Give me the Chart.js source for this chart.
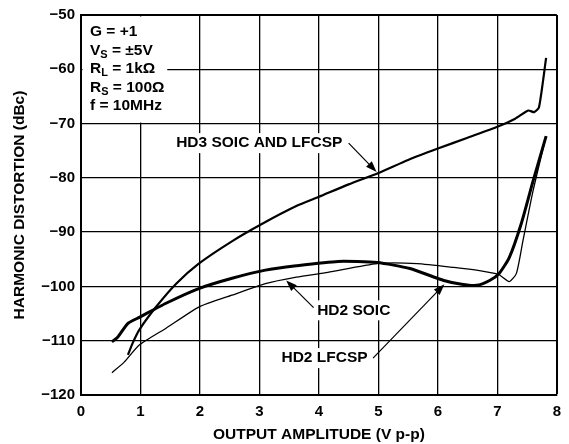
<!DOCTYPE html>
<html>
<head>
<meta charset="utf-8">
<script src="https://cdn.jsdelivr.net/npm/chart.js@4.4.1/dist/chart.umd.min.js"></script>
<style>
  body { margin: 0; background: #fff; }
  canvas { display: block; }
</style>
</head>
<body>
<canvas id="distortionChart" width="569" height="444"></canvas>
<script>
// HD3 SOIC and LFCSP
const hd3X = [0.79, 0.87, 0.98, 1.26, 1.6, 1.98, 2.55, 3.04, 3.62, 4.0, 4.5, 5.0, 5.5, 6.0, 6.5, 7.0, 7.3, 7.52, 7.62, 7.7, 7.82];
const hd3Y = [-112.6, -110.4, -108, -103.8, -99.5, -95.8, -91.6, -88.5, -85.2, -83.5, -81.2, -79.1, -76.7, -74.6, -72.6, -70.6, -69.1, -67.6, -67.9, -67.0, -57.9];

// HD2 LFCSP (heavy line)
const hd2LfcspX = [0.52, 0.62, 0.79, 0.98, 1.43, 1.98, 2.54, 3.1, 3.62, 4.32, 4.98, 5.53, 6.1, 6.4, 6.65, 6.87, 7.03, 7.2, 7.4, 7.6, 7.82];
const hd2LfcspY = [-110.2, -109.3, -106.8, -105.7, -103.1, -100.4, -98.5, -97, -96.2, -95.4, -95.6, -96.7, -98.9, -99.6, -99.8, -98.9, -97.6, -94.7, -88.5, -80.6, -72.3];

// HD2 SOIC (thin line)
const hd2SoicX = [0.52, 0.73, 0.98, 1.43, 1.98, 2.54, 3.1, 3.62, 4.15, 4.98, 5.65, 6.27, 6.7, 7.02, 7.2, 7.32, 7.43, 7.6, 7.82];
const hd2SoicY = [-115.9, -113.9, -110.8, -107.7, -103.8, -101.6, -99.5, -98.3, -97.4, -95.8, -95.8, -96.5, -97.1, -97.8, -99.1, -97.6, -91.6, -82.4, -72.3];

const xTicks = [0, 1, 2, 3, 4, 5, 6, 7, 8];
const yTicks = [-120, -110, -100, -90, -80, -70, -60, -50];

const conditions = [
    ['G = +1', '', ''],
    ['V', 'S', ' = \u00b15V'],
    ['R', 'L', ' = 1k\u03a9'],
    ['R', 'S', ' = 100\u03a9'],
    ['f = 10MHz', '', '']
];

// curve labels: text, label pos (data), arrow from -> to (data)
const callouts = [
    { text: 'HD3 SOIC AND LFCSP', x: 1.6, y: -73.6, from: [4.5, -73.6], to: [4.97, -78.9] },
    { text: 'HD2 SOIC', x: 3.97, y: -104.4, from: [3.91, -103.9], to: [3.45, -98.9] },
    { text: 'HD2 LFCSP', x: 3.37, y: -113.2, from: [4.91, -113.2], to: [6.11, -99.6] }
];

const FONT = '"Liberation Sans", Arial, sans-serif';
const LABEL_FONT = 'bold 15.5px ' + FONT;

function toPoints(xs, ys) {
    return xs.map((x, i) => ({ x: x, y: ys[i] }));
}

function drawArrow(ctx, x1, y1, x2, y2) {
    const ang = Math.atan2(y2 - y1, x2 - x1);
    const len = 11, half = 4;
    ctx.beginPath();
    ctx.moveTo(x1, y1);
    ctx.lineTo(x2 - Math.cos(ang) * len * 0.8, y2 - Math.sin(ang) * len * 0.8);
    ctx.lineWidth = 1.2;
    ctx.strokeStyle = '#000';
    ctx.stroke();
    ctx.beginPath();
    ctx.moveTo(x2, y2);
    ctx.lineTo(x2 - Math.cos(ang) * len - Math.sin(ang) * half, y2 - Math.sin(ang) * len + Math.cos(ang) * half);
    ctx.lineTo(x2 - Math.cos(ang) * len + Math.sin(ang) * half, y2 - Math.sin(ang) * len - Math.cos(ang) * half);
    ctx.closePath();
    ctx.fillStyle = '#000';
    ctx.fill();
}

const annotations = {
    id: 'annotations',
    beforeDatasetsDraw(chart) {
        const ctx = chart.ctx;
        const xs = chart.scales.x, ys = chart.scales.y;
        const area = chart.chartArea;
        ctx.save();
        ctx.fillStyle = '#fff';
        // conditions box
        ctx.fillRect(area.left + 1.5, area.top + 1.5, xs.getPixelForValue(1.45) - area.left - 1.5, ys.getPixelForValue(-70) - area.top - 2.5);
        // label boxes
        ctx.font = LABEL_FONT;
        callouts.forEach(c => {
            const px = xs.getPixelForValue(c.x), py = ys.getPixelForValue(c.y);
            const w = ctx.measureText(c.text).width;
            ctx.fillRect(px - 3, py - 10, w + 6, 20);
        });
        ctx.restore();
    },
    afterDatasetsDraw(chart) {
        const ctx = chart.ctx;
        const xs = chart.scales.x, ys = chart.scales.y;
        const area = chart.chartArea;
        ctx.save();
        ctx.fillStyle = '#000';
        ctx.textBaseline = 'middle';
        ctx.textAlign = 'left';
        conditions.forEach((parts, i) => {
            let x = area.left + 9;
            const y = area.top + 17 + i * 18.5;
            ctx.font = LABEL_FONT;
            ctx.fillText(parts[0], x, y);
            x += ctx.measureText(parts[0]).width;
            if (parts[1]) {
                ctx.font = 'bold 11px ' + FONT;
                ctx.fillText(parts[1], x, y + 4);
                x += ctx.measureText(parts[1]).width;
                ctx.font = LABEL_FONT;
                ctx.fillText(parts[2], x, y);
            }
        });
        ctx.font = LABEL_FONT;
        callouts.forEach(c => {
            ctx.fillText(c.text, xs.getPixelForValue(c.x), ys.getPixelForValue(c.y));
            drawArrow(ctx,
                xs.getPixelForValue(c.from[0]), ys.getPixelForValue(c.from[1]),
                xs.getPixelForValue(c.to[0]), ys.getPixelForValue(c.to[1]));
        });
        ctx.restore();
    }
};

const ctx = document.getElementById('distortionChart').getContext('2d');

new Chart(ctx, {
    type: 'line',
    data: {
        datasets: [{
            label: 'HD3 SOIC AND LFCSP',
            data: toPoints(hd3X, hd3Y),
            borderColor: '#000',
            borderWidth: 2.2,
            pointRadius: 0,
            tension: 0.2
        }, {
            label: 'HD2 LFCSP',
            data: toPoints(hd2LfcspX, hd2LfcspY),
            borderColor: '#000',
            borderWidth: 3,
            pointRadius: 0,
            tension: 0.2
        }, {
            label: 'HD2 SOIC',
            data: toPoints(hd2SoicX, hd2SoicY),
            borderColor: '#000',
            borderWidth: 1.3,
            pointRadius: 0,
            tension: 0.2
        }]
    },
    options: {
        responsive: false,
        animation: false,
        layout: {
            padding: { top: 13, right: 9, left: 0, bottom: 0 }
        },
        plugins: {
            legend: { display: false },
            tooltip: { enabled: false }
        },
        scales: {
            x: {
                type: 'linear',
                min: 0,
                max: 8,
                afterBuildTicks: scale => { scale.ticks = xTicks.map(v => ({ value: v })); },
                afterFit: scale => { scale.height = 49; },
                ticks: {
                    color: '#000',
                    font: { family: FONT, size: 15, weight: 'bold' },
                    padding: 8,
                    maxRotation: 0
                },
                grid: {
                    color: '#000',
                    lineWidth: c => (c.tick && c.tick.value === 8) ? 2 : 1.3,
                    drawTicks: false
                },
                border: { color: '#000', width: 2 },
                title: {
                    display: true,
                    text: 'OUTPUT AMPLITUDE (V p-p)',
                    color: '#000',
                    font: { family: FONT, size: 15.5, weight: 'bold' },
                    padding: { top: 0, bottom: 0 }
                }
            },
            y: {
                min: -120,
                max: -50,
                afterBuildTicks: scale => { scale.ticks = yTicks.map(v => ({ value: v })); },
                afterFit: scale => { scale.width = 81; },
                ticks: {
                    color: '#000',
                    font: { family: FONT, size: 15, weight: 'bold' },
                    padding: 6,
                    callback: v => String(v).replace('-', '\u2212')
                },
                grid: {
                    color: '#000',
                    lineWidth: c => (c.tick && c.tick.value === -50) ? 2 : 1.3,
                    drawTicks: false
                },
                border: { color: '#000', width: 2 },
                title: {
                    display: true,
                    text: 'HARMONIC DISTORTION (dBc)',
                    color: '#000',
                    font: { family: FONT, size: 15.5, weight: 'bold' },
                    padding: { top: 10, bottom: 0 }
                }
            }
        }
    },
    plugins: [annotations]
});
</script>
</body>
</html>
